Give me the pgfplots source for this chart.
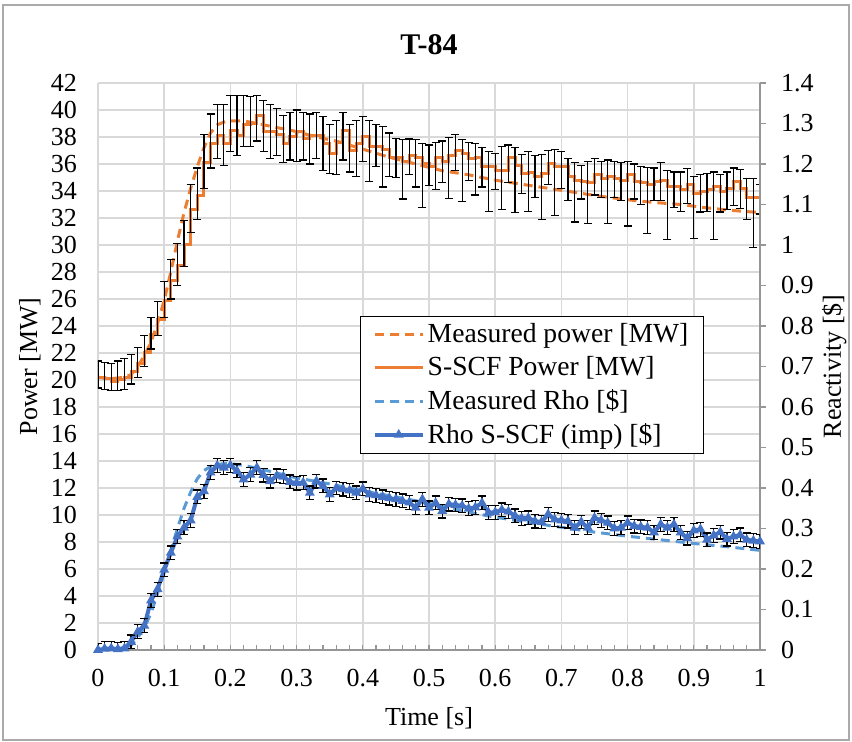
\documentclass[border=0pt]{standalone}
\usepackage{fontspec}
\setmainfont{Liberation Serif}
\usepackage{pgfplots}
\usepackage{pgfplotstable}
\pgfplotsset{compat=1.18}
\definecolor{cOrange}{RGB}{237,125,49}
\definecolor{cBlue}{RGB}{68,114,196}
\definecolor{cLBlue}{RGB}{91,155,213}
\definecolor{cGrid}{RGB}{217,217,217}
\definecolor{cAxis}{RGB}{150,150,150}
\definecolor{cFrame}{RGB}{170,170,170}
\newcommand\fs{\fontsize{13}{15.6}\selectfont}
\newcommand\lfs{\fontsize{13.8}{16.5}\selectfont}

\pgfplotstableread{
t P
0.00 20.2
0.02 20.1
0.04 20.2
0.05 20.4
0.06 21.0
0.07 21.8
0.08 22.8
0.09 24.2
0.10 25.9
0.11 28.0
0.12 30.3
0.13 32.4
0.14 34.2
0.15 35.8
0.16 37.2
0.17 38.3
0.18 38.9
0.19 39.1
0.20 39.2
0.22 39.2
0.25 38.9
0.28 38.6
0.30 38.4
0.33 38.0
0.36 37.7
0.40 37.1
0.44 36.5
0.48 36.0
0.52 35.5
0.56 35.2
0.60 34.8
0.64 34.5
0.68 34.2
0.72 33.9
0.76 33.6
0.80 33.35
0.84 33.15
0.88 33.0
0.92 32.75
0.96 32.55
1.00 32.4
}\mpow

\pgfplotstableread{
t P ep em
0.00 20.2 1.2 0.8
0.01 20.1 1.2 0.8
0.02 19.9 1.3 0.7
0.03 20.0 1.4 0.8
0.04 20.2 1.4 0.9
0.05 20.6 1.3 0.9
0.06 21.2 1.2 1.0
0.07 22.0 1.3 1.0
0.08 23.4 1.2 1.1
0.09 24.5 1.3 1.2
0.10 25.9 1.4 1.3
0.11 27.4 1.5 1.4
0.12 28.5 1.6 1.5
0.13 30.0 1.8 1.6
0.14 32.6 1.9 1.7
0.15 33.7 2.0 1.8
0.16 36.1 2.1 1.9
0.17 37.5 2.2 1.8
0.18 38.1 2.3 1.7
0.19 37.5 2.9 1.6
0.20 38.5 2.6 1.6
0.21 38.1 3.0 1.5
0.22 38.9 2.2 1.6
0.23 39.0 2.0 1.7
0.24 39.6 1.5 1.9
0.25 38.4 2.3 1.5
0.26 38.4 2.0 2.0
0.27 38.2 1.9 1.6
0.28 37.5 2.1 1.4
0.29 38.0 1.8 1.7
0.30 38.4 1.6 2.2
0.31 37.9 1.9 1.6
0.32 38.1 1.6 2.1
0.33 38.1 1.7 1.7
0.34 37.5 2.0 2.0
0.35 36.8 2.1 1.5
0.36 37.6 1.6 2.4
0.37 38.5 1.3 2.2
0.38 37.0 1.9 1.6
0.39 37.5 1.7 2.4
0.40 38.0 1.5 1.8
0.41 37.3 1.9 2.6
0.42 37.3 1.6 1.5
0.43 37.1 1.7 2.8
0.44 36.5 1.8 1.4
0.45 36.5 1.4 1.5
0.46 36.2 1.6 2.8
0.47 36.65 1.2 1.4
0.48 36.5 1.3 2.2
0.49 36.0 1.5 3.2
0.50 35.8 1.6 1.4
0.51 36.5 1.1 2.4
0.52 36.2 1.5 1.6
0.53 36.65 1.3 3.2
0.54 37.0 1.2 1.5
0.55 36.8 1.0 3.6
0.56 36.4 1.2 1.6
0.57 36.5 1.0 2.8
0.58 35.8 1.4 1.5
0.59 35.8 1.1 3.3
0.60 35.5 1.3 1.4
0.61 35.5 1.8 2.9
0.62 36.5 0.9 1.9
0.63 35.9 1.3 3.5
0.64 35.3 1.4 1.5
0.65 35.4 1.5 2.9
0.66 35.1 1.5 1.6
0.67 35.3 1.4 3.4
0.68 36.0 1.0 1.5
0.69 35.8 1.3 3.6
0.70 35.8 1.1 1.6
0.71 35.1 1.3 1.8
0.72 34.8 1.3 3.1
0.73 34.7 1.2 1.3
0.74 34.6 1.6 3.0
0.75 35.2 1.2 1.5
0.76 34.9 1.3 1.4
0.77 35.1 1.2 3.5
0.78 34.9 1.3 1.4
0.79 34.8 1.3 1.5
0.80 35.2 1.0 3.8
0.81 34.7 1.3 1.3
0.82 34.6 1.2 1.6
0.83 34.45 1.3 3.6
0.84 34.7 1.0 1.4
0.85 34.8 1.3 1.5
0.86 34.3 1.2 3.9
0.87 34.3 1.1 1.5
0.88 34.1 1.3 1.6
0.89 34.45 1.2 1.4
0.90 33.8 1.3 3.3
0.91 33.95 1.3 1.5
0.92 34.1 1.2 1.6
0.93 34.3 1.1 3.9
0.94 33.95 1.3 1.5
0.95 34.2 1.2 1.6
0.96 34.7 1.0 1.8
0.97 34.2 1.4 1.5
0.98 33.5 1.4 1.6
0.99 33.5 1.4 3.7
1.00 33.5 1.0 1.2
}\spow

\pgfplotstableread{
t r
0.00 0.000
0.02 0.002
0.04 0.005
0.05 0.012
0.06 0.030
0.07 0.055
0.08 0.090
0.09 0.140
0.10 0.190
0.11 0.245
0.12 0.300
0.13 0.350
0.14 0.390
0.15 0.423
0.16 0.443
0.17 0.453
0.18 0.458
0.19 0.460
0.20 0.460
0.22 0.456
0.25 0.445
0.30 0.425
0.35 0.410
0.40 0.393
0.45 0.378
0.50 0.362
0.55 0.343
0.60 0.328
0.65 0.315
0.70 0.303
0.75 0.291
0.80 0.281
0.85 0.272
0.90 0.263
0.95 0.255
1.00 0.246
}\mrho

\pgfplotstableread{
t r
0.00 0.000
0.01 0.003
0.02 0.004
0.03 0.002
0.04 0.004
0.05 0.020
0.06 0.045
0.07 0.060
0.08 0.122
0.09 0.150
0.10 0.198
0.11 0.240
0.12 0.280
0.13 0.302
0.14 0.320
0.15 0.378
0.16 0.392
0.17 0.438
0.18 0.455
0.19 0.450
0.20 0.456
0.21 0.442
0.22 0.421
0.23 0.433
0.24 0.450
0.25 0.432
0.26 0.417
0.27 0.430
0.28 0.428
0.29 0.415
0.30 0.412
0.31 0.413
0.32 0.388
0.33 0.417
0.34 0.405
0.35 0.384
0.36 0.400
0.37 0.397
0.38 0.394
0.39 0.388
0.40 0.398
0.41 0.384
0.42 0.382
0.43 0.378
0.44 0.375
0.45 0.372
0.46 0.368
0.47 0.364
0.48 0.351
0.49 0.372
0.50 0.351
0.51 0.363
0.52 0.343
0.53 0.360
0.54 0.358
0.55 0.356
0.56 0.349
0.57 0.352
0.58 0.363
0.59 0.339
0.60 0.340
0.61 0.346
0.62 0.342
0.63 0.331
0.64 0.325
0.65 0.326
0.66 0.318
0.67 0.316
0.68 0.335
0.69 0.322
0.70 0.320
0.71 0.318
0.72 0.302
0.73 0.316
0.74 0.302
0.75 0.326
0.76 0.320
0.77 0.314
0.78 0.300
0.79 0.302
0.80 0.314
0.81 0.306
0.82 0.304
0.83 0.302
0.84 0.290
0.85 0.310
0.86 0.302
0.87 0.310
0.88 0.290
0.89 0.276
0.90 0.295
0.91 0.298
0.92 0.272
0.93 0.283
0.94 0.291
0.95 0.274
0.96 0.280
0.97 0.284
0.98 0.272
0.99 0.270
1.00 0.268
}\srho

\begin{document}
\begin{tikzpicture}
\useasboundingbox (-49pt,-46pt) rectangle (377pt,325pt);
\pgfplotsset{
  common/.style={
    scale only axis, width=331pt, height=283.5pt,
    at={(0,0)}, anchor=south west,
    xmin=0, xmax=1,
    /pgf/number format/assume math mode=true,
    tick label style={font=\fs},
  },
}
\begin{axis}[common,
  ymin=0, ymax=42, ytick={0,2,...,42},
  xtick={0,0.1,0.2,0.3,0.4,0.5,0.6,0.7,0.8,0.9,1},
  minor x tick num=4,
  grid=major, major grid style={cGrid, line width=0.75pt},
  axis x line*=bottom, axis y line*=left,
  x axis line style={cAxis, line width=0.75pt, -},
  y axis line style={draw=none},
  ytick style={draw=none},
  xtick style={cAxis, line width=0.6pt},
  tick align=inside, major tick length=2.5pt, minor tick length=2.5pt,
  yticklabel style={anchor=east, xshift=-7pt},
  xticklabel style={anchor=north, yshift=-6pt},
  xlabel={Time [s]}, ylabel={Power [MW]},
  every axis x label/.style={at={(axis description cs:0.5,-0.12)}, anchor=center, font=\fs},
  every axis y label/.style={at={(axis description cs:-0.103,0.5)}, rotate=90, anchor=center, font=\fs},
  title={\fontsize{15}{18}\selectfont\bfseries T-84},
  every axis title/.style={at={(axis description cs:0.5,1.067)}, anchor=center},
]
\addplot[cOrange, line width=1.5pt, dash pattern=on 4.5pt off 3pt] table[x=t,y=P]{\mpow};
\addplot[cOrange, line width=1.5pt, const plot,
  error bars/.cd, y dir=both, y explicit,
  error bar style={black, line width=0.6pt, solid},
  error mark options={rotate=90, mark size=2pt, black, line width=0.6pt, solid}]
  table[x=t, y=P, y error plus=ep, y error minus=em]{\spow};
\end{axis}
\begin{axis}[common,
  ymin=0, ymax=1.4,
  ytick={0,0.1,0.2,0.3,0.4,0.5,0.6,0.7,0.8,0.9,1,1.1,1.2,1.3,1.4},
  axis y line*=right, axis x line=none,
  y axis line style={cAxis, line width=0.75pt, -},
  ytick style={cAxis, line width=0.6pt},
  tick align=outside, major tick length=3pt,
  yticklabel style={anchor=west, xshift=4pt},
  ylabel={Reactivity [\$]},
  every axis y label/.style={at={(axis description cs:1.112,0.5)}, rotate=90, anchor=center, font=\fs},
  legend style={at={(0.396,0.589)}, anchor=north west, draw=black, line width=0.6pt,
    fill=white, font=\lfs, cells={anchor=west}, row sep=2.4pt,
    nodes={inner sep=1.5pt},
    inner xsep=6pt, inner ysep=2pt},
  legend image code/.code={\draw[mark repeat=2,mark phase=2] plot coordinates {(0pt,0pt) (12pt,0pt) (24pt,0pt)};},
]
\addlegendimage{cOrange, line width=1.5pt, dash pattern=on 4.5pt off 3pt}
\addlegendentry{Measured power [MW]}
\addlegendimage{cOrange, line width=1.5pt}
\addlegendentry{S-SCF Power [MW]}
\addplot[cLBlue, line width=1.5pt, dash pattern=on 4.5pt off 3pt] table[x=t,y=r]{\mrho};
\addlegendentry{Measured Rho [\$]}
\addplot[cBlue, line width=2pt, mark=triangle*, mark size=0.9pt, mark options={solid, cBlue},
  error bars/.cd, y dir=both, y fixed=0.017,
  error bar style={black, line width=0.6pt, solid},
  error mark options={rotate=90, mark size=2pt, black, line width=0.6pt, solid}]
  table[x=t, y=r]{\srho};
\addlegendentry{Rho S-SCF (imp) [\$]}
\end{axis}
\draw[cFrame, line width=0.75pt] (-47.5pt,-45pt) rectangle (375.5pt,322.5pt);
\end{tikzpicture}
\end{document}
